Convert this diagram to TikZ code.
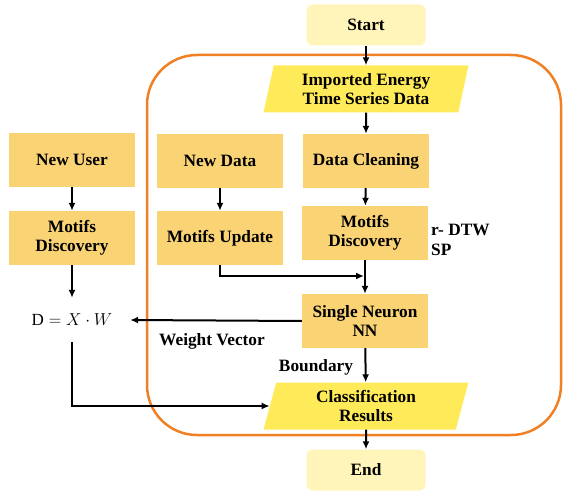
\documentclass[tikz,border=0pt]{standalone}
\usepackage{fontspec}
\setmainfont{Liberation Serif}
\usepackage{tikz}
\usetikzlibrary{shapes.geometric,arrows.meta}
\definecolor{boxorange}{HTML}{FAD375}
\definecolor{datayellow}{HTML}{FFEB5A}
\definecolor{termyellow}{HTML}{FFF5BA}
\definecolor{frameorange}{HTML}{F08024}

\begin{document}
\begin{tikzpicture}[x=1pt,y=-1pt,
  every node/.style={font=\fontsize{17.3}{19.5}\selectfont\bfseries, align=center},
  stepbox/.style={fill=boxorange, minimum width=126, minimum height=54, inner sep=2},
  term/.style={fill=termyellow, rounded corners=6, minimum width=119, minimum height=41},
  io/.style={trapezium, trapezium left angle=78, trapezium right angle=102, trapezium stretches=true,
    fill=datayellow, minimum width=205, minimum height=47, inner sep=1},
  arr/.style={-{Latex[length=8pt,width=7pt]}, line width=2pt}]
\useasboundingbox (0,0) rectangle (563,495);
%
\draw[frameorange, line width=2.5pt, rounded corners=50] (147,55) rectangle (561,435);
%
\node[term] (start) at (366,25) {Start};
\node[io] (imp) at (366,89) {Imported Energy\\Time Series Data};
\node[stepbox] (clean) at (366,161) {Data Cleaning};
\node[stepbox] (motif) at (365,233) {Motifs\\Discovery};
\node[stepbox] (neuron) at (365,321) {Single Neuron\\NN};
\node[io] (cls) at (366,406) {Classification\\Results};
\node[term] (end) at (366,470) {End};
%
\node[stepbox] (newdata) at (220,161) {New Data};
\node[stepbox] (update) at (220,238) {Motifs Update};
\node[stepbox] (newuser) at (72,160) {New User};
\node[stepbox] (umotif) at (72,238) {Motifs\\Discovery};
\node[font=\fontsize{17}{19.5}\selectfont, minimum width=116, minimum height=44] (dist) at (72,320) {$\mathrm{D} = X \cdot W$};
%
\node[anchor=west, align=left, inner sep=0] (dtw) at (431,240) {r- DTW\\SP};
\node (weight) at (212,341) {Weight Vector};
\node (bound) at (316,367) {Boundary};
\coordinate (join) at (364,276);
%
\draw[arr] (start) -- (imp);
\draw[arr] (imp) -- (clean);
\draw[arr] (clean) -- (motif);
\draw[arr] (motif) -- (neuron);
\draw[arr] (newdata) -- (update);
\draw[arr] (update.south) |- (join);
\draw[arr] (neuron) -- (cls);
\draw[arr] (cls) -- (end);
%
\draw[arr] (newuser) -- (umotif);
\draw[arr] (umotif) -- (dist);
\draw[arr] (neuron.west) -- (dist.east);
\draw[arr] (dist.south) |- (cls.west);
\end{tikzpicture}
\end{document}
